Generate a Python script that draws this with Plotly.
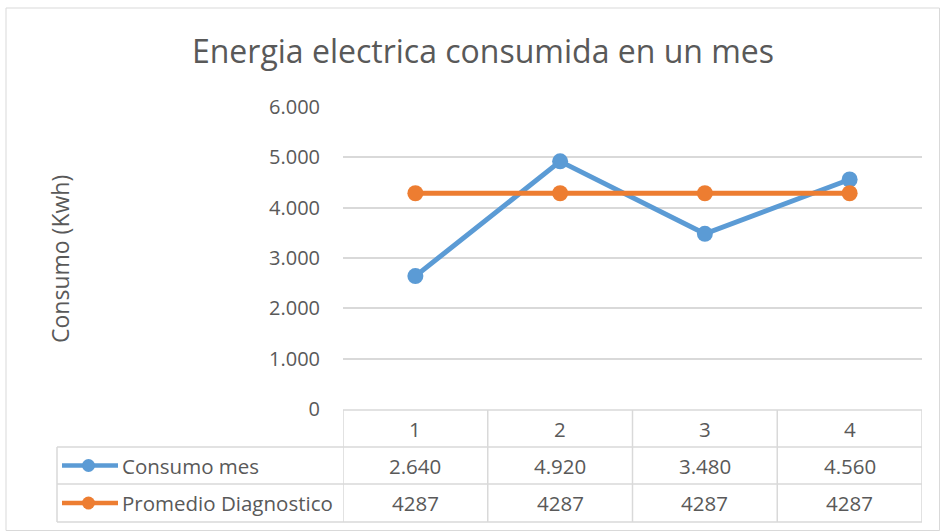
import plotly.graph_objects as go

# Monthly electricity consumption vs. diagnostic average
categories = ["1", "2", "3", "4"]
consumo_mes = [2640, 4920, 3480, 4560]
promedio_diagnostico = [4287, 4287, 4287, 4287]
series_names = ["Consumo mes", "Promedio Diagnostico"]
series_colors = ["#5b9bd5", "#ed7d31"]
y_ticks = [0, 1000, 2000, 3000, 4000, 5000, 6000]

W, H = 940, 531
FONT = "Open Sans"
TXT = "#595959"
GRID = "#d9d9d9"

# pixel layout helpers (converted to paper fractions)
def px(x):
    return x / W

def py(y):
    return 1 - y / H

plot_left, plot_right = 343, 922
plot_top, plot_bottom = 107, 409
row_y = [410, 447, 484, 522]
table_left = 57

fig = go.Figure()
for name, vals, col in zip(series_names, [consumo_mes, promedio_diagnostico], series_colors):
    fig.add_trace(go.Scatter(
        x=list(range(len(categories))), y=vals, name=name, mode="lines+markers",
        line=dict(color=col, width=5),
        marker=dict(color=col, size=16),
        showlegend=False,
    ))

shapes = []
annotations = []

# outer chart border
shapes.append(dict(type="rect", xref="paper", yref="paper",
                   x0=px(6), x1=px(939.5), y0=py(530.5), y1=py(8),
                   line=dict(color=GRID, width=1)))

# data table grid
shapes.append(dict(type="line", xref="paper", yref="paper",
                   x0=px(plot_left), x1=px(plot_right), y0=py(row_y[0]), y1=py(row_y[0]),
                   line=dict(color=GRID, width=1.5)))
for ry in row_y[1:]:
    shapes.append(dict(type="line", xref="paper", yref="paper",
                       x0=px(table_left), x1=px(plot_right), y0=py(ry), y1=py(ry),
                       line=dict(color=GRID, width=1.5)))
for i in range(len(categories) + 1):
    shapes.append(dict(type="line", xref="x", yref="paper",
                       x0=i - 0.5, x1=i - 0.5, y0=py(row_y[0]), y1=py(row_y[-1]),
                       line=dict(color=GRID, width=1.5)))
shapes.append(dict(type="line", xref="paper", yref="paper",
                   x0=px(table_left), x1=px(table_left), y0=py(row_y[1]), y1=py(row_y[-1]),
                   line=dict(color=GRID, width=1.5)))

cell_font = dict(family=FONT, size=20.5, color=TXT)

# header row: category labels
for i, c in enumerate(categories):
    annotations.append(dict(xref="x", yref="paper", x=i, y=py((row_y[0] + row_y[1]) / 2),
                            xanchor="center", yanchor="middle",
                            text=c, showarrow=False, font=cell_font))

# series rows: legend key, name and values
for r, (name, vals, col) in enumerate(zip(series_names, [consumo_mes, promedio_diagnostico], series_colors)):
    yc = (row_y[r + 1] + row_y[r + 2]) / 2
    shapes.append(dict(type="line", xref="paper", yref="paper",
                       x0=px(62), x1=px(118), y0=py(yc), y1=py(yc),
                       line=dict(color=col, width=4.5)))
    shapes.append(dict(type="circle", xref="paper", yref="paper",
                       x0=px(82), x1=px(95), y0=py(yc + 6.5), y1=py(yc - 6.5),
                       fillcolor=col, line=dict(color=col, width=0)))
    annotations.append(dict(xref="paper", yref="paper", x=px(120), y=py(yc),
                            xanchor="left", yanchor="middle",
                            text=name, showarrow=False, font=cell_font))
    for i, v in enumerate(vals):
        label = f"{v:,}".replace(",", ".") if r == 0 else str(v)
        annotations.append(dict(xref="x", yref="paper", x=i, y=py(yc),
                                xanchor="center", yanchor="middle",
                                text=label, showarrow=False, font=cell_font))

# y axis title
annotations.append(dict(xref="paper", yref="paper", x=px(60), y=py(259),
                        xanchor="center", yanchor="middle",
                        text="Consumo (Kwh)", textangle=-90, showarrow=False,
                        font=dict(family=FONT, size=23, color=TXT)))

fig.update_layout(
    width=W, height=H,
    margin=dict(l=0, r=0, t=0, b=0, pad=0, autoexpand=False),
    paper_bgcolor="white", plot_bgcolor="white",
    separators=",.",
    title=dict(text="Energia electrica consumida en un mes",
               x=px(483), y=py(52), xanchor="center", yanchor="middle",
               font=dict(family=FONT, size=32, color=TXT)),
    xaxis=dict(domain=[px(plot_left), px(plot_right)],
               range=[-0.5, len(categories) - 0.5],
               showticklabels=False, showgrid=False, zeroline=False, ticks=""),
    yaxis=dict(domain=[py(plot_bottom), py(plot_top)], range=[0, 6000],
               tickvals=y_ticks, tickformat=",d",
               showgrid=True, gridcolor=GRID, gridwidth=1.5, zeroline=False,
               tickfont=dict(family=FONT, size=20, color=TXT), ticks="",
               ticklabelstandoff=22),
    shapes=shapes, annotations=annotations,
)

fig.write_html("out.html")
